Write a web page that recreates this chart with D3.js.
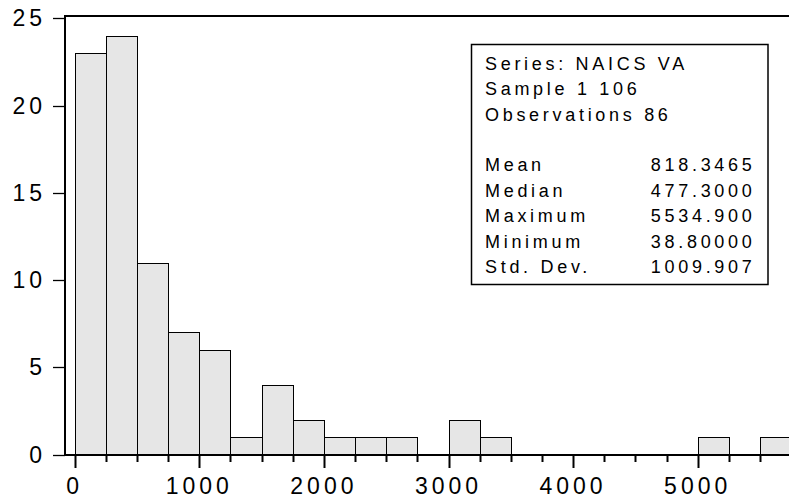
<!DOCTYPE html>
<html>
<head>
<meta charset="utf-8">
<script src="https://cdn.jsdelivr.net/npm/d3@7"></script>
<style>
  html, body { margin: 0; padding: 0; background: #fff; }
  svg { display: block; }
  text { font-family: "Liberation Sans", Arial, sans-serif; fill: #000; }
</style>
</head>
<body>
<svg id="chart" width="789" height="499"></svg>
<script>
// ---- data ----
const binStarts = [0, 250, 500, 750, 1000, 1250, 1500, 1750, 2000, 2250, 2500, 2750,
                   3000, 3250, 3500, 3750, 4000, 4250, 4500, 4750, 5000, 5250, 5500];
const binWidth = 250;
const counts = [23, 24, 11, 7, 6, 1, 4, 2, 1, 1, 1, 0,
                2, 1, 0, 0, 0, 0, 0, 0, 1, 0, 1];
const xTicks = [0, 1000, 2000, 3000, 4000, 5000];
const xMinorTicks = [250, 500, 750, 1250, 1500, 1750, 2250, 2500, 2750, 3250, 3500, 3750,
                     4250, 4500, 4750, 5250, 5500];
const yTicks = [0, 5, 10, 15, 20, 25];
const statsHeader = ["Series: NAICS VA", "Sample 1 106", "Observations 86"];
const statLabels = ["Mean", "Median", "Maximum", "Minimum", "Std. Dev."];
const statValues = ["818.3465", "477.3000", "5534.900", "38.80000", "1009.907"];

// ---- layout ----
const svg = d3.select("#chart");
const x = d3.scaleLinear().domain([0, 5000]).range([74.7, 697.7]);
const y = d3.scaleLinear().domain([0, 25]).range([454.5, 18.3]);
const frameLeft = 65, frameTop = 16, frameBottom = 455, frameRight = 800;

// bars
svg.append("g").selectAll("rect")
  .data(binStarts.map((s, i) => ({s, c: counts[i]})).filter(d => d.c > 0))
  .join("rect")
  .attr("x", d => Math.round(x(d.s)) + 0.5)
  .attr("width", d => Math.round(x(d.s + binWidth)) - Math.round(x(d.s)))
  .attr("y", d => Math.round(y(d.c)) + 0.5)
  .attr("height", d => Math.round(y(0)) - Math.round(y(d.c)))
  .attr("fill", "#e6e6e6")
  .attr("stroke", "#000")
  .attr("stroke-width", 1);

// frame lines
svg.append("line").attr("x1", frameLeft).attr("x2", frameRight)
  .attr("y1", frameTop).attr("y2", frameTop).attr("stroke", "#000").attr("stroke-width", 2);
svg.append("line").attr("x1", frameLeft).attr("x2", frameLeft)
  .attr("y1", frameTop - 1).attr("y2", frameBottom + 1).attr("stroke", "#000").attr("stroke-width", 2);
svg.append("line").attr("x1", frameLeft).attr("x2", frameRight)
  .attr("y1", frameBottom).attr("y2", frameBottom).attr("stroke", "#000").attr("stroke-width", 2);

// y ticks
const yg = svg.append("g");
yg.selectAll("line").data(yTicks).join("line")
  .attr("x1", 53).attr("x2", frameLeft)
  .attr("y1", d => Math.round(y(d)) + 0.5).attr("y2", d => Math.round(y(d)) + 0.5)
  .attr("stroke", "#000").attr("stroke-width", 1.3);
yg.selectAll("text").data(yTicks).join("text")
  .attr("x", 46).attr("y", d => y(d) + 8)
  .attr("text-anchor", "end")
  .style("font-size", "23px").style("letter-spacing", "4px")
  .text(d => d);

// x ticks
const xg = svg.append("g");
xg.selectAll("line.major").data(xTicks).join("line").attr("class", "major")
  .attr("x1", d => Math.round(x(d)) + 0.5).attr("x2", d => Math.round(x(d)) + 0.5)
  .attr("y1", frameBottom).attr("y2", 468)
  .attr("stroke", "#000").attr("stroke-width", 2);
xg.selectAll("line.minor").data(xMinorTicks).join("line").attr("class", "minor")
  .attr("x1", d => Math.round(x(d)) + 0.5).attr("x2", d => Math.round(x(d)) + 0.5)
  .attr("y1", frameBottom).attr("y2", 462)
  .attr("stroke", "#000").attr("stroke-width", 2);
xg.selectAll("text").data(xTicks).join("text")
  .attr("x", d => x(d)).attr("y", 494)
  .attr("text-anchor", "middle")
  .style("font-size", "23px").style("letter-spacing", "4px")
  .text(d => d);

// stats box
const box = svg.append("g");
box.append("rect").attr("x", 471.5).attr("y", 44.5).attr("width", 296.5).attr("height", 240)
  .attr("fill", "#fff").attr("stroke", "#000").attr("stroke-width", 1.5);
const rowH = 25.5;
box.selectAll("text.hdr").data(statsHeader).join("text").attr("class", "hdr")
  .attr("x", 485).attr("y", (d, i) => 69.5 + i * rowH)
  .style("font-size", "18px").style("letter-spacing", "3.7px")
  .text(d => d);
box.selectAll("text.lbl").data(statLabels).join("text").attr("class", "lbl")
  .attr("x", 485).attr("y", (d, i) => 171 + i * rowH)
  .style("font-size", "18px").style("letter-spacing", "3.7px")
  .text(d => d);
box.selectAll("text.val").data(statValues).join("text").attr("class", "val")
  .attr("x", 755.5).attr("y", (d, i) => 171 + i * rowH)
  .attr("text-anchor", "end")
  .style("font-size", "18px").style("letter-spacing", "3.7px")
  .text(d => d);
</script>
</body>
</html>
